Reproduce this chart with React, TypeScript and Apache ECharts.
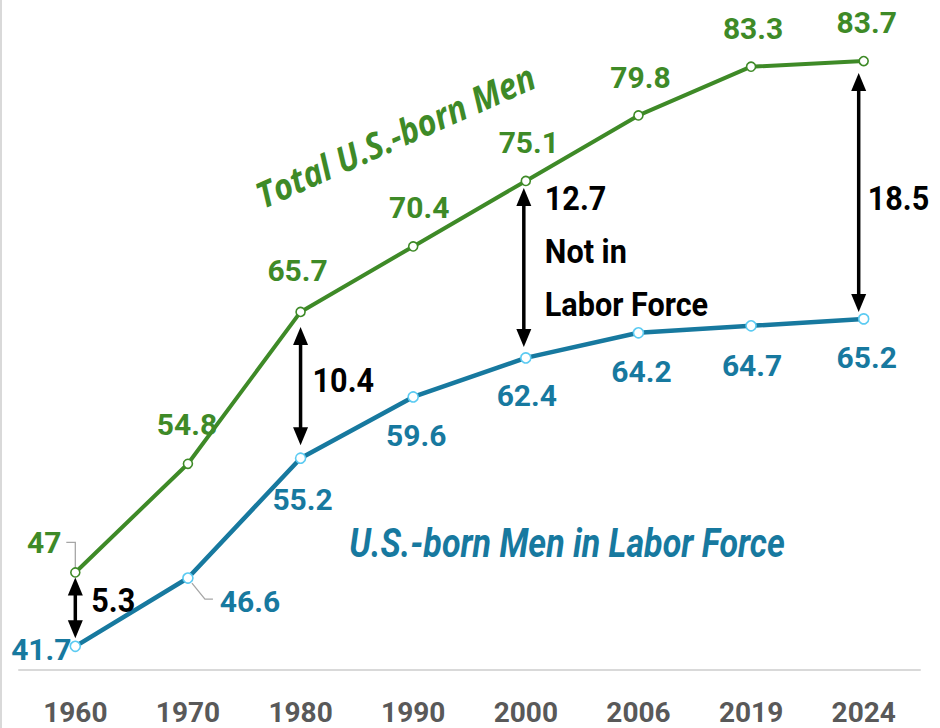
import React, { useEffect, useRef } from 'react';
import * as echarts from 'echarts';

const years = ['1960', '1970', '1980', '1990', '2000', '2006', '2019', '2024'];
const totalMen = [47, 54.8, 65.7, 70.4, 75.1, 79.8, 83.3, 83.7];
const laborForce = [41.7, 46.6, 55.2, 59.6, 62.4, 64.2, 64.7, 65.2];
const gapYearIdx = [0, 2, 4, 7];
const gapLabels = ['5.3', '10.4', '12.7', '18.5'];
const gapNotes = ['', '', 'Not in\nLabor Force', ''];
const totalTitle = 'Total U.S.-born Men';
const laborTitle = 'U.S.-born Men in Labor Force';

// styling (label offsets in px relative to the point)
const totalLabelOffsets = [[-31, -30], [-1, -39], [-3, -41], [6, -39], [3, -38], [2, -38], [2, -38], [3, -39]];
const laborLabelOffsets = [[-34, 3], [62, 23], [2, 41], [3, 39], [1, 38], [3, 39], [1, 40], [3, 39]];
const arrowInsets = [[5, 8], [15, 13], [7, 11], [12, 7]];
const arrowDx = [0, 0, -2, -5];
const arrowLabelDx = [16, 12, 21, 9];
const arrowLabelDy = [-7, -6, -69, 6];

const GREEN = '#3E8A27';
const BLUE = '#17799F';
const BLUE_MARK = '#5CCBF2';
const FONT = "Roboto, 'Noto Sans', sans-serif";

export default function App() {
  const ref = useRef<HTMLDivElement>(null);
  useEffect(() => {
    if (!ref.current) return;
    const chart = echarts.init(ref.current, undefined, { renderer: 'svg' });
    const labelBase = {
      show: true,
      position: 'inside',
      fontSize: 30,
      fontWeight: 'bold',
      fontFamily: FONT,
      textBorderWidth: 0,
      formatter: (p: any) => String(p.value),
    };
    chart.setOption({
      animation: false,
      backgroundColor: '#ffffff',
      grid: { left: 19, right: 20, top: 43, bottom: 58 },
      xAxis: {
        type: 'category',
        data: years,
        boundaryGap: true,
        axisLine: { lineStyle: { color: '#D9D9D9', width: 2 } },
        axisTick: { show: false },
        axisLabel: { color: '#595959', fontSize: 28, fontWeight: 'bold', fontFamily: FONT, margin: 28 },
      },
      yAxis: {
        type: 'value', min: 40, max: 85, show: false, splitLine: { show: false },
      },
      series: [
        {
          name: totalTitle,
          type: 'line',
          data: totalMen.map((v, i) => ({ value: v, label: { offset: totalLabelOffsets[i] } })),
          symbol: 'circle',
          symbolSize: 9,
          showAllSymbol: true,
          lineStyle: { color: GREEN, width: 4 },
          itemStyle: { color: '#ffffff', borderColor: GREEN, borderWidth: 1.6 },
          label: { ...labelBase, color: GREEN },
          z: 3,
        },
        {
          name: laborTitle,
          type: 'line',
          data: laborForce.map((v, i) => ({ value: v, label: { offset: laborLabelOffsets[i] } })),
          symbol: 'circle',
          symbolSize: 10,
          showAllSymbol: true,
          lineStyle: { color: BLUE, width: 4.5 },
          itemStyle: { color: '#ffffff', borderColor: BLUE_MARK, borderWidth: 1.6 },
          label: { ...labelBase, color: BLUE },
          z: 3,
        },
      ],
    });

    const px = (i: number, v: number) => chart.convertToPixel({ gridIndex: 0 }, [i, v]) as number[];
    const graphics: any[] = [];
    graphics.push({ type: 'rect', shape: { x: 0, y: 0, width: 2, height: 728 }, style: { fill: '#D9D9D9' }, silent: true });

    // arrows
    gapYearIdx.forEach((idx, k) => {
      const top = px(idx, totalMen[idx]);
      const bot = px(idx, laborForce[idx]);
      const x = top[0] + arrowDx[k];
      const y1 = top[1] + arrowInsets[k][0];
      const y2 = bot[1] - arrowInsets[k][1];
      const hw = 7.5, hh = 18;
      graphics.push({ type: 'line', shape: { x1: x, y1: y1 + hh - 2, x2: x, y2: y2 - hh + 2 }, style: { stroke: '#000', lineWidth: 3.5 }, z: 10 });
      graphics.push({ type: 'polygon', shape: { points: [[x, y1], [x - hw, y1 + hh], [x + hw, y1 + hh]] }, style: { fill: '#000' }, z: 10 });
      graphics.push({ type: 'polygon', shape: { points: [[x, y2], [x - hw, y2 - hh], [x + hw, y2 - hh]] }, style: { fill: '#000' }, z: 10 });
      const ly = (y1 + y2) / 2 + arrowLabelDy[k];
      graphics.push({
        type: 'text', x: x + arrowLabelDx[k], y: ly, z: 10, scaleX: 0.9,
        style: { text: gapLabels[k], fill: '#000', font: `bold 34px ${FONT}`, align: 'left', verticalAlign: 'middle' },
      });
      if (gapNotes[k]) {
        graphics.push({
          type: 'text', x: x + arrowLabelDx[k], y: ly + 27, z: 10, scaleX: 0.9,
          style: { text: gapNotes[k], fill: '#000', font: `bold 34px ${FONT}`, lineHeight: 53, align: 'left', verticalAlign: 'top' },
        });
      }
    });

    // leader lines
    const p0 = px(0, totalMen[0]);
    graphics.push({ type: 'polyline', shape: { points: [[p0[0], p0[1] - 5], [p0[0], p0[1] - 30], [p0[0] - 9, p0[1] - 30]] }, style: { stroke: '#A6A6A6', lineWidth: 1.3, fill: 'none' }, z: 2 });
    const p1 = px(1, laborForce[1]);
    graphics.push({ type: 'polyline', shape: { points: [[p1[0] + 4, p1[1] + 5], [p1[0] + 17, p1[1] + 21], [p1[0] + 25, p1[1] + 21]] }, style: { stroke: '#A6A6A6', lineWidth: 1.3, fill: 'none' }, z: 2 });

    // series titles
    graphics.push({
      type: 'text', x: 395, y: 135, rotation: (24 * Math.PI) / 180, scaleX: 0.9, z: 10,
      style: { text: totalTitle, fill: GREEN, font: `italic bold 36px 'Open Sans', sans-serif`, align: 'center', verticalAlign: 'middle' },
    });
    graphics.push({
      type: 'text', x: 567, y: 543, z: 10, scaleX: 0.83,
      style: { text: laborTitle, fill: BLUE, font: `italic bold 41px ${FONT}`, align: 'center', verticalAlign: 'middle' },
    });

    chart.setOption({ graphic: graphics });
    return () => chart.dispose();
  }, []);
  return <div ref={ref} style={{ position: 'fixed', left: 0, top: 0, width: 940, height: 728 }} />;
}
